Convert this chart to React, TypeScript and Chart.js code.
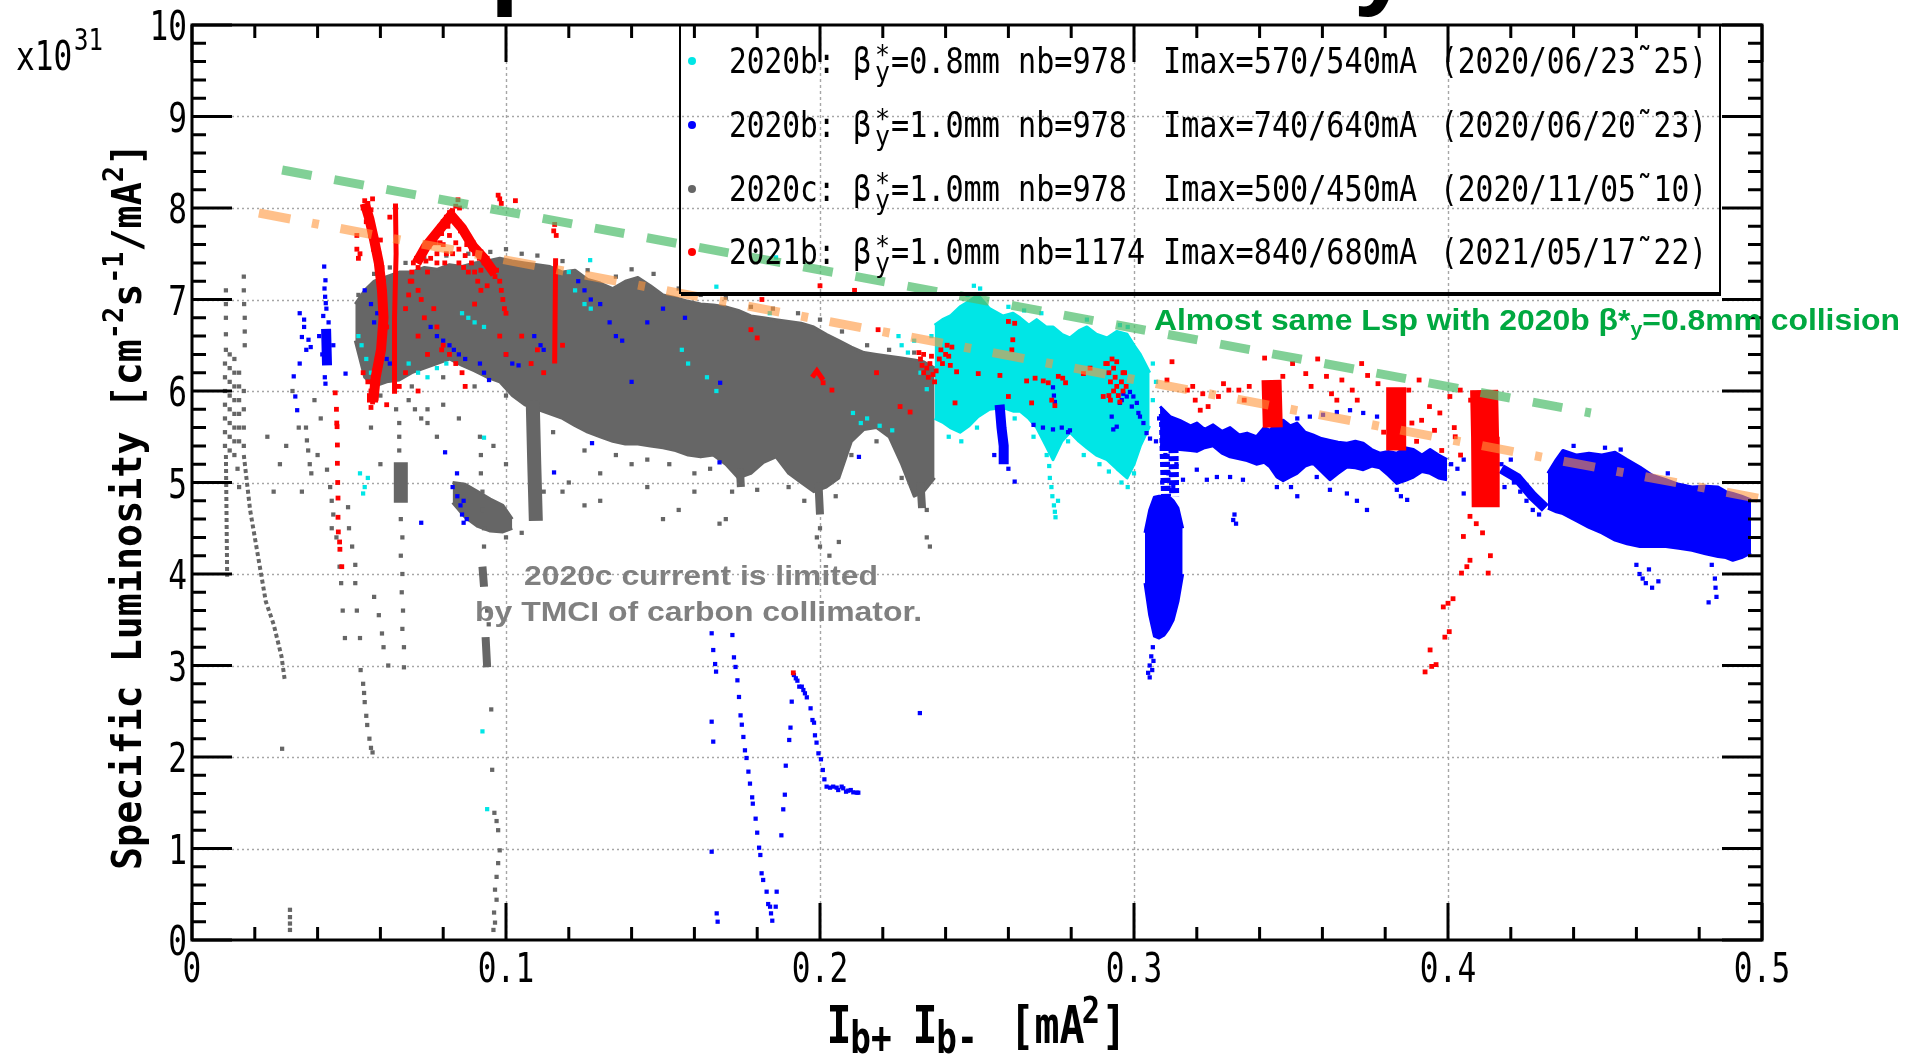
import React, { useEffect, useRef } from 'react';
import { Chart, registerables } from 'chart.js';

Chart.register(...registerables);

type P = [number, number];

const W = 1907;
const H = 1057;

// ---------------- axes ----------------
const xMajorTicks = [0, 0.1, 0.2, 0.3, 0.4, 0.5];
const xTickLabels = ['0', '0.1', '0.2', '0.3', '0.4', '0.5'];
const yMajorTicks = [0, 1, 2, 3, 4, 5, 6, 7, 8, 9, 10];
const yTickLabels = ['0', '1', '2', '3', '4', '5', '6', '7', '8', '9', '10'];
const xMinorCount = 25; // 0.02 steps
const yMinorCount = 50; // 0.2 steps

// ---------------- legend ----------------
const legendRuns = ['2020b', '2020b', '2020c', '2021b'];
const legendBeta = ['0.8', '1.0', '1.0', '1.0'];
const legendNb = ['978', '978', '978', '1174'];
const legendImax = ['570/540', '740/640', '500/450', '840/680'];
const legendDates = ['2020/06/23˜25', '2020/06/20˜23', '2020/11/05˜10', '2021/05/17˜22'];
const COLORS = { cyan: '#00e6e6', blue: '#0000ff', gray: '#666666', red: '#ff0000' };
const legendColors = [COLORS.cyan, COLORS.blue, COLORS.gray, COLORS.red];

// ---------------- guide lines ----------------
const greenLine: P[] = [[0.0287, 8.415], [0.4455, 5.76]];
const orangeLine: P[] = [[0.0213, 7.945], [0.5, 4.82]];

// ---------------- 2020c (gray) ----------------
const grayCloudX = [0.052,0.055,0.058,0.062,0.066,0.070,0.074,0.078,0.082,0.086,0.090,0.094,0.098,0.102,0.106,0.110,0.114,0.118,0.122,0.126,0.130,0.134,0.138,0.142,0.146,0.150,0.154,0.158,0.162,0.166,0.170,0.174,0.178,0.182,0.186,0.190,0.194,0.198,0.202,0.206,0.210,0.214,0.218,0.222,0.226,0.230,0.233,0.2365];
const grayCloudTop = [6.95,7.10,7.20,7.25,7.30,7.30,7.35,7.33,7.38,7.36,7.40,7.42,7.45,7.42,7.40,7.38,7.36,7.30,7.32,7.22,7.18,7.12,7.20,7.24,7.15,7.05,7.02,6.98,6.95,6.94,6.92,6.88,6.82,6.80,6.78,6.76,6.74,6.70,6.62,6.55,6.48,6.42,6.40,6.38,6.36,6.34,6.32,6.25];
const grayCloudBottom = [6.55,6.15,6.05,6.10,6.12,6.20,6.25,6.30,6.35,6.28,6.22,6.15,6.10,5.95,5.85,5.80,5.75,5.70,5.62,5.55,5.50,5.45,5.42,5.42,5.40,5.38,5.35,5.30,5.28,5.30,5.20,5.05,5.10,5.22,5.28,5.10,5.00,4.90,4.95,5.05,5.45,5.58,5.60,5.50,5.20,4.85,4.90,5.05];
const grayClumpX = [0.083, 0.087, 0.091, 0.095, 0.099, 0.102];
const grayClumpTop = [5.0, 4.98, 4.9, 4.82, 4.75, 4.6];
const grayClumpBottom = [4.78, 4.62, 4.52, 4.47, 4.46, 4.5];
const grayStrokesWide: P[][] = [
  [[0.0665, 5.22], [0.0665, 4.78]],
  [[0.1085, 5.9], [0.109, 5.2], [0.1095, 4.58]],
];
const grayStrokesMid: P[][] = [
  [[0.1745, 5.15], [0.1748, 4.95]],
  [[0.1995, 5.0], [0.2, 4.65]],
  [[0.232, 5.0], [0.2325, 4.72]],
  [[0.0925, 4.08], [0.093, 3.86]],
  [[0.0935, 3.31], [0.094, 2.98]],
];
const grayStrokesDotted: P[][] = [
  [[0.0165, 5.3], [0.0185, 4.7], [0.021, 4.2], [0.0235, 3.7], [0.026, 3.45], [0.0285, 3.1], [0.0295, 2.85]],
  [[0.0108, 5.3], [0.0112, 3.97]],
];
const grayPoints: P[] = [
  [0.0105,6.3],[0.0105,6.15],[0.0105,6.0],[0.0105,5.85],[0.0105,5.7],[0.0105,5.55],[0.0105,5.4],
  [0.012,6.4],[0.012,6.25],[0.012,6.1],[0.012,5.95],[0.012,5.8],[0.012,5.65],[0.012,5.5],[0.012,5.35],
  [0.0135,6.35],[0.0135,6.2],[0.0135,6.05],[0.0135,5.9],[0.0135,5.75],[0.0135,5.6],[0.0135,5.45],[0.0135,5.3],
  [0.015,6.2],[0.015,6.05],[0.015,5.9],[0.015,5.75],[0.015,5.6],[0.015,5.45],[0.0165,6.0],[0.0165,5.8],[0.0165,5.6],[0.0165,5.4],
  [0.0108,7.1],[0.0108,6.95],[0.0108,6.8],[0.0108,6.62],[0.0108,6.45],
  [0.0165,7.25],[0.0165,7.1],[0.0166,6.95],[0.0168,6.8],[0.0168,6.65],[0.0168,6.5],
  [0.0145,5.15],[0.015,4.95],[0.0312,0.33],[0.0312,0.25],[0.0312,0.18],[0.0312,0.11],[0.0287,2.09],
  [0.0366,5.46],[0.037,5.35],[0.0375,5.2],[0.038,5.1],[0.0363,5.6],
  [0.043,5.14],[0.044,4.95],[0.0445,4.8],[0.045,4.65],[0.0445,4.5],[0.046,4.4],[0.047,4.08],[0.0475,3.9],[0.048,3.6],[0.0487,3.3],
  [0.0497,4.73],[0.05,4.5],[0.051,4.3],[0.052,4.1],[0.052,3.9],[0.0525,3.6],[0.0535,3.3],
  [0.0537,2.95],[0.0545,2.8],[0.0548,2.7],[0.055,2.6],[0.0555,2.45],[0.0558,2.35],[0.0565,2.2],[0.057,2.1],[0.0575,2.05],
  [0.058,3.75],[0.0595,3.55],[0.0605,3.35],[0.061,3.2],[0.0625,3.0],
  [0.065,5.8],[0.066,5.65],[0.066,5.5],[0.066,5.35],[0.0665,4.6],[0.067,4.4],[0.0665,4.2],[0.067,4.0],[0.0668,3.8],[0.0672,3.6],[0.067,3.4],[0.0675,3.2],[0.0675,2.98],
  [0.069,5.9],[0.071,5.8],[0.073,5.7],[0.075,5.65],
  [0.0917,5.5],[0.092,5.3],[0.092,5.1],[0.0925,4.9],[0.0925,4.7],[0.093,4.5],[0.093,4.3],[0.094,3.6],[0.0945,3.45],
  [0.0953,2.52],[0.0956,1.86],[0.0963,1.39],[0.097,1.3],[0.0975,1.2],[0.098,0.98],[0.0975,0.84],[0.097,0.69],[0.0965,0.55],[0.097,0.44],[0.0962,0.3],[0.0965,0.19],[0.096,0.11],
  [0.053,7.05],[0.058,7.28],[0.063,7.35],[0.068,7.4],[0.074,7.45],[0.081,7.48],[0.088,7.5],[0.095,7.52],[0.1,7.55],[0.105,7.5],[0.11,7.48],[0.118,7.42],[0.126,7.32],[0.135,7.25],[0.14,7.33],[0.147,7.28],[0.155,7.12],[0.162,7.05],[0.17,7.02],[0.178,6.92],[0.185,6.9],[0.193,6.85],[0.2,6.78],[0.207,6.65],[0.215,6.5],[0.222,6.45],[0.23,6.42],
  [0.06,5.95],[0.07,6.05],[0.08,6.15],[0.09,6.05],[0.1,5.95],[0.115,5.55],[0.125,5.35],[0.135,5.3],[0.145,5.25],[0.152,5.2],[0.16,5.1],[0.165,5.15],[0.172,4.9],[0.18,4.92],[0.19,4.95],[0.195,4.8],[0.205,4.85],[0.21,5.3],[0.218,5.45],[0.226,5.05],[0.234,4.7],[0.2,4.5],[0.199,4.4],
  [0.024,5.5],[0.028,5.2],[0.035,4.9],[0.04,5.3],[0.057,5.6],[0.06,5.2],[0.075,5.8],[0.078,5.5],[0.12,5.0],[0.13,5.1],[0.14,5.2],[0.15,4.6],[0.16,4.9],[0.17,4.6],[0.2,4.3],[0.203,4.2],[0.206,4.35],[0.234,4.4],[0.235,4.3],[0.1,4.4],[0.105,4.45],[0.112,4.9],[0.125,4.75],[0.168,4.55],
  [0.032,6.0],[0.034,5.6],[0.039,5.9],[0.041,5.7],[0.03,5.4],[0.026,4.9],[0.08,5.85],[0.085,5.7],[0.096,5.4],[0.1,5.2],[0.118,4.9],[0.13,4.8],[0.145,4.95],[0.155,4.7],
];

// ---------------- 2020b beta*=0.8mm (cyan) ----------------
const cyanCloudX = [0.2365,0.239,0.2415,0.2446,0.2475,0.2503,0.254,0.2583,0.2615,0.2637,0.2665,0.269,0.272,0.2742,0.277,0.2796,0.2825,0.285,0.288,0.2914,0.2945,0.2978,0.300,0.302,0.305];
const cyanCloudTop = [6.72,6.78,6.82,6.92,6.98,7.05,6.90,6.82,6.85,6.80,6.72,6.78,6.70,6.70,6.62,6.58,6.66,6.70,6.62,6.58,6.65,6.62,6.50,6.40,6.20];
const cyanCloudBottom = [5.70,5.66,5.60,5.55,5.62,5.72,5.80,5.82,5.78,5.78,5.70,5.60,5.40,5.25,5.45,5.55,5.45,5.38,5.30,5.25,5.15,5.05,5.20,5.40,5.62];
const cyanPoints: P[] = [
  [0.053,6.6],[0.054,6.5],[0.0555,6.35],[0.057,6.2],[0.069,6.3],[0.072,6.2],[0.075,6.15],[0.078,6.25],[0.081,6.3],[0.086,6.85],[0.088,6.8],[0.09,6.75],[0.093,6.7],
  [0.12,7.3],[0.122,7.1],[0.125,6.95],[0.127,6.9],[0.1268,7.43],[0.156,6.45],[0.158,6.3],[0.164,6.15],[0.167,6.0],[0.167,7.14],[0.184,6.85],[0.186,7.46],
  [0.0535,5.1],[0.055,4.95],[0.056,5.05],[0.0545,4.88],[0.0925,2.28],[0.094,1.43],[0.093,5.49],
  [0.2105,5.76],[0.213,5.65],[0.215,5.7],[0.219,5.62],[0.223,5.57],[0.226,6.5],[0.228,6.42],[0.23,6.55],[0.232,6.2],[0.234,6.02],[0.225,6.6],[0.2355,6.6],
  [0.2722,5.3],[0.273,5.18],[0.2732,5.05],[0.2737,4.95],[0.274,4.85],[0.2745,4.75],[0.2748,4.68],[0.275,4.62],[0.2758,4.8],
  [0.249,7.15],[0.251,7.12],[0.247,7.05],[0.26,6.92],[0.265,6.88],[0.2705,6.85],[0.285,6.78],[0.2955,6.72],[0.298,6.7],
  [0.241,5.5],[0.245,5.45],[0.25,5.6],[0.262,5.7],[0.268,5.5],[0.279,5.45],[0.284,5.3],[0.289,5.2],[0.292,5.12],[0.296,5.0],[0.298,4.95],[0.3,5.1],
  [0.306,5.9],[0.307,6.1],[0.306,6.3],
];

// ---------------- 2020b beta*=1.0mm (blue) ----------------
const blueBandX = [0.3083,0.3115,0.3146,0.318,0.32,0.3225,0.3252,0.328,0.3306,0.3335,0.336,0.339,0.3415,0.3433,0.3455,0.3475,0.3497,0.3519,0.3545,0.357,0.3597,0.3624,0.365,0.3678,0.3705,0.373,0.3757,0.3783,0.381,0.3837,0.3863,0.389,0.3917,0.3943,0.397,0.3997];
const blueBandTop = [5.83,5.72,5.68,5.62,5.65,5.58,5.63,5.56,5.60,5.52,5.54,5.50,5.60,5.57,5.66,5.68,5.62,5.65,5.55,5.52,5.48,5.46,5.44,5.43,5.45,5.43,5.36,5.32,5.34,5.32,5.38,5.36,5.30,5.36,5.30,5.25];
const blueBandBottom = [5.40,5.38,5.36,5.35,5.34,5.38,5.40,5.32,5.28,5.26,5.24,5.20,5.22,5.17,5.06,5.02,5.06,5.10,5.18,5.21,5.12,5.03,5.10,5.17,5.16,5.14,5.18,5.16,5.08,4.99,5.02,5.06,5.12,5.10,5.05,5.03];
const blueCloudX = [0.4318,0.4345,0.4366,0.441,0.4449,0.449,0.4532,0.457,0.4611,0.465,0.4694,0.4735,0.4777,0.482,0.486,0.4885,0.4907,0.4935,0.4965];
const blueCloudTop = [5.10,5.25,5.35,5.30,5.32,5.30,5.33,5.25,5.17,5.08,5.03,4.98,4.95,4.96,4.95,4.90,4.88,4.85,4.81];
const blueCloudBottom = [4.72,4.68,4.66,4.58,4.51,4.45,4.37,4.33,4.30,4.30,4.30,4.28,4.26,4.22,4.19,4.18,4.15,4.18,4.23];
const blueBlobX = [0.3035,0.305,0.3065,0.308,0.3095,0.311,0.3125,0.314,0.3155];
const blueBlobTop = [4.45,4.7,4.84,4.85,4.85,4.85,4.8,4.72,4.5];
const blueBlobBottom = [3.9,3.55,3.32,3.3,3.33,3.4,3.5,3.7,4.0];
const blueStrokes: P[][] = [
  [[0.2572, 5.85], [0.2578, 5.6], [0.2585, 5.4], [0.2585, 5.2]],
  [[0.0427, 6.68], [0.043, 6.28]],
  [[0.417, 5.15], [0.422, 5.05], [0.427, 4.85], [0.431, 4.72]],
];
const blueStrokesDashed: P[][] = [
  [[0.3095, 5.75], [0.3098, 5.3], [0.3102, 4.85]],
  [[0.3125, 5.55], [0.3128, 4.85]],
];
const bluePoints: P[] = [
  [0.0324,6.16],[0.0329,5.94],[0.0335,5.79],[0.0343,6.3],[0.035,6.59],[0.0357,6.7],[0.0364,6.45],[0.0371,6.56],[0.0378,6.48],[0.0343,6.85],[0.0357,6.78],
  [0.0421,7.36],[0.0425,7.21],[0.0424,7.03],[0.0428,6.9],[0.0435,6.75],[0.0423,6.15],[0.0425,6.08],[0.0489,6.19],[0.0405,6.6],[0.045,6.5],[0.0415,6.4],[0.0422,7.12],[0.0426,6.96],[0.0418,6.82],
  [0.055,7.1],[0.057,6.95],[0.059,6.85],[0.058,6.75],[0.06,6.5],[0.062,6.35],[0.063,6.3],[0.076,6.7],[0.078,6.6],[0.08,6.55],[0.082,6.5],[0.0834,6.45],[0.085,6.4],[0.087,6.35],[0.0917,6.3],[0.093,6.2],[0.0946,6.12],[0.1,6.4],[0.102,6.3],[0.104,6.28],[0.109,6.6],[0.111,6.5],[0.112,6.45],[0.123,7.2],[0.125,7.1],[0.127,7.0],[0.13,6.95],[0.133,6.75],[0.135,6.6],[0.137,6.55],[0.14,6.1],[0.145,6.75],[0.15,6.9],[0.157,6.8],[0.1682,6.09],
  [0.168,5.22],[0.2124,5.28],[0.1153,5.11],[0.1274,5.43],[0.0806,5.33],[0.073,4.56],[0.0844,5.1],[0.083,4.95],[0.0845,4.85],[0.0855,4.75],[0.086,4.65],[0.0865,4.56],[0.0875,4.6],[0.0865,4.8],
  [0.1655,3.352],[0.166,3.169],[0.1666,3.016],[0.1669,2.933],[0.1655,2.386],[0.166,2.168],[0.1655,0.965],[0.1671,0.291],[0.1674,0.2],
  [0.1721,3.333],[0.1726,3.089],[0.1731,2.984],[0.1737,2.838],[0.1742,2.656],[0.1747,2.455],[0.1751,2.353],[0.1756,2.219],[0.1761,2.073],[0.1766,1.989],[0.1772,1.84],[0.1777,1.709],[0.1784,1.559],[0.1786,1.49],[0.1795,1.326],[0.18,1.173],[0.1806,1.009],[0.181,0.929],[0.1814,0.729],[0.1819,0.656],[0.183,0.528],[0.1835,0.393],[0.1841,0.364],[0.1844,0.291],[0.1848,0.211],[0.1862,0.528],[0.1859,0.364],
  [0.1917,2.896],[0.1923,2.86],[0.1928,2.834],[0.1934,2.769],[0.1942,2.769],[0.1947,2.732],[0.1952,2.696],[0.1958,2.652],[0.197,2.532],[0.1976,2.404],[0.1981,2.375],[0.1984,2.237],[0.1989,2.157],[0.1995,2.04],[0.2003,1.975],[0.2009,1.858],[0.2014,1.756],[0.2021,1.676],[0.2032,1.665],[0.2042,1.676],[0.2053,1.665],[0.2058,1.639],[0.2069,1.676],[0.2074,1.658],[0.2083,1.621],[0.209,1.632],[0.2098,1.639],[0.2106,1.614],[0.2117,1.61],[0.2122,1.61],
  [0.191,2.605],[0.1906,2.321],[0.1902,2.186],[0.1891,1.905],[0.1888,1.588],[0.1883,1.428],[0.1877,1.144],
  [0.2318,2.48],
  [0.268,5.63],[0.271,5.6],[0.2742,5.58],[0.277,5.6],[0.279,5.55],[0.2796,5.57],[0.2742,6.04],[0.2745,5.95],[0.2748,5.88],[0.262,5.01],[0.2555,5.3],[0.26,5.15],
  [0.2929,5.72],[0.2945,5.61],[0.2955,5.87],[0.2966,5.97],[0.2977,5.94],[0.2987,5.99],[0.2998,5.94],[0.3009,5.87],[0.3014,5.76],[0.3019,5.72],[0.303,5.65],[0.304,5.54],[0.3051,5.48],[0.2993,5.83],[0.2961,5.9],[0.2934,5.58],
  [0.308,5.7],[0.3095,5.5],[0.31,5.3],[0.311,5.1],[0.3125,4.95],[0.309,5.0],[0.3135,5.2],[0.307,5.45],
  [0.306,3.2],[0.3055,3.1],[0.305,3.0],[0.3045,2.92],[0.305,2.87],[0.3058,2.95],[0.3062,3.05],
  [0.3602,5.74],[0.3646,5.77],[0.3688,5.79],[0.373,5.76],[0.3774,5.72],[0.3815,5.66],[0.352,5.7],[0.356,5.72],
  [0.3156,5.03],[0.32,5.14],[0.3232,5.03],[0.3264,5.06],[0.3306,5.06],[0.3347,5.03],[0.3316,4.59],[0.332,4.65],[0.3325,4.55],
  [0.3582,5.06],[0.3624,4.92],[0.3678,4.88],[0.371,4.8],[0.3742,4.7],[0.3837,4.92],[0.385,4.85],[0.387,4.81],[0.405,4.88],[0.409,4.77],[0.35,4.95],[0.352,4.85],[0.3455,4.95],
  [0.401,5.2],[0.403,5.15],[0.405,5.25],[0.417,5.2],[0.419,5.1],[0.421,5.0],[0.423,4.9],[0.425,4.8],[0.427,4.7],[0.429,4.65],[0.42,5.25],[0.418,4.95],
  [0.46,4.1],[0.461,4.0],[0.462,3.95],[0.463,3.9],[0.465,3.85],[0.464,4.05],[0.467,3.92],[0.484,4.1],[0.485,3.95],[0.4852,3.85],[0.4855,3.75],[0.483,3.69],
  [0.44,5.4],[0.45,5.38],[0.455,5.36],[0.47,5.1],
];

// ---------------- 2021b (red) ----------------
const redStrokesXL: P[][] = [
  [[0.4115, 6.01], [0.4118, 5.5], [0.412, 4.73]],
];
const redStrokesThick: P[][] = [
  [[0.3438, 6.12], [0.3442, 5.6]],
  [[0.3835, 6.04], [0.3835, 5.35]],
];
const redStrokesMid: P[][] = [
  [[0.055, 8.05], [0.0565, 7.88], [0.058, 7.65], [0.0595, 7.4], [0.0605, 7.1], [0.061, 6.8], [0.0602, 6.45], [0.0585, 6.15], [0.0578, 5.9]],
  [[0.0715, 7.4], [0.0745, 7.58], [0.0785, 7.75], [0.0825, 7.92], [0.086, 7.78], [0.0895, 7.58], [0.093, 7.45], [0.0965, 7.28]],
];
const redStrokesThin: P[][] = [
  [[0.0645, 5.97], [0.0645, 6.8], [0.065, 7.5], [0.0648, 8.05]],
  [[0.1155, 6.3], [0.1158, 7.45]],
  [[0.1975, 6.15], [0.199, 6.22], [0.201, 6.12]],
];
const redPoints: P[] = [
  [0.0545,8.0],[0.055,8.08],[0.0555,7.95],[0.056,8.05],[0.0565,7.9],[0.057,7.98],[0.0555,7.85],[0.0575,7.8],[0.058,7.72],[0.0568,7.7],[0.0585,7.65],[0.059,7.58],[0.0578,7.55],[0.0595,7.5],[0.06,7.42],[0.0588,7.4],[0.0605,7.35],[0.0598,7.28],[0.061,7.2],[0.0602,7.1],[0.0612,7.05],[0.0605,6.95],[0.0615,6.85],[0.0608,6.75],[0.062,6.7],[0.061,6.6],[0.0598,6.5],[0.0605,6.42],[0.059,6.35],[0.0598,6.28],[0.0582,6.22],[0.059,6.15],[0.0575,6.1],[0.0585,6.05],[0.057,6.0],[0.058,5.95],[0.0575,5.88],[0.0565,5.95],[0.0585,5.9],[0.0595,6.4],[0.056,6.1],[0.0525,7.55],[0.053,7.45],[0.0535,7.5],
  [0.069,7.05],[0.0695,7.2],[0.07,7.3],[0.0705,7.4],[0.0715,7.45],[0.072,7.35],[0.073,7.5],[0.074,7.55],[0.0745,7.62],[0.0755,7.58],[0.076,7.65],[0.077,7.7],[0.0775,7.62],[0.078,7.75],[0.079,7.8],[0.0795,7.72],[0.08,7.85],[0.081,7.9],[0.0815,7.8],[0.082,7.95],[0.083,7.97],[0.0835,7.88],[0.084,8.02],[0.085,7.85],[0.0855,7.75],[0.086,7.8],[0.087,7.7],[0.0875,7.6],[0.088,7.65],[0.089,7.55],[0.0895,7.62],[0.09,7.5],[0.091,7.55],[0.0915,7.45],[0.092,7.52],[0.093,7.4],[0.094,7.45],[0.0945,7.35],[0.095,7.38],[0.096,7.3],[0.0965,7.25],[0.097,7.32],[0.098,7.2],[0.0985,7.1],[0.099,7.0],[0.0995,6.9],[0.1,6.85],[0.075,7.3],[0.08,7.6],[0.085,7.4],[0.09,7.3],[0.072,7.1],[0.078,7.5],
  [0.076,7.45],[0.079,7.62],[0.082,7.7],[0.084,7.62],[0.087,7.48],[0.083,7.5],[0.0805,7.4],[0.0865,7.35],[0.0745,7.42],[0.089,7.4],[0.092,7.32],
  [0.0456,5.98],[0.046,5.8],[0.0461,5.65],[0.0462,5.61],[0.0463,5.41],[0.0463,5.21],[0.0464,5.0],[0.0465,4.83],[0.0465,4.62],[0.0466,4.46],[0.047,4.35],[0.0471,4.27],[0.0477,4.08],
  [0.0975,8.14],[0.098,8.1],[0.0985,8.05],[0.103,8.08],[0.0847,8.09],[0.0852,8.0],[0.1155,7.82],[0.1152,7.75],[0.116,7.7],
  [0.066,6.05],[0.068,6.2],[0.072,6.6],[0.074,6.8],[0.078,6.7],[0.08,6.5],[0.082,6.4],[0.084,6.3],[0.086,6.2],[0.087,6.05],[0.062,5.85],[0.0565,5.9],[0.057,5.82],[0.0545,6.2],[0.075,6.4],[0.077,6.9],[0.0795,6.45],[0.09,6.95],[0.092,7.1],[0.1,6.4],[0.098,6.6],[0.105,6.6],[0.108,6.3],[0.11,6.45],[0.118,6.5],[0.112,6.2],[0.072,6.0],[0.07,7.2],[0.068,6.9],[0.073,7.0],[0.081,7.5],[0.085,7.55],[0.088,7.3],[0.091,7.2],[0.094,7.15],[0.078,7.4],[0.063,7.9],[0.0525,7.7],[0.06,7.65],[0.0575,8.1],
  [0.1815,7.0],[0.211,7.1],[0.178,6.67],[0.18,6.58],[0.2185,6.67],[0.218,6.2],[0.2255,5.83],[0.2287,5.77],[0.2038,6.01],[0.201,6.09],[0.2,7.15],
  [0.2315,6.42],[0.232,6.35],[0.2325,6.28],[0.233,6.2],[0.234,6.25],[0.2345,6.15],[0.235,6.3],[0.236,6.18],[0.2365,6.1],[0.237,6.22],[0.238,6.35],[0.2385,6.45],[0.239,6.3],[0.24,6.4],[0.2405,6.5],[0.241,6.38],[0.242,6.48],[0.2415,6.28],[0.233,6.4],[0.2355,6.38],
  [0.2915,6.3],[0.292,6.2],[0.2925,6.1],[0.293,6.35],[0.2935,6.25],[0.294,6.15],[0.2945,6.05],[0.295,5.95],[0.2955,5.88],[0.296,6.1],[0.2965,6.2],[0.2935,6.0],[0.2925,5.9],[0.2975,6.05],[0.2945,6.32],
  [0.2435,6.21],[0.2504,6.19],[0.2573,6.17],[0.2658,6.11],[0.2685,6.14],[0.2711,6.11],[0.2727,6.09],[0.2759,6.16],[0.2773,6.14],[0.2782,6.09],[0.2839,6.19],[0.286,6.25],[0.2902,5.94],[0.26,5.94],[0.2674,5.87],[0.2738,5.9],[0.2748,5.84],[0.243,5.87],[0.26,6.76],[0.262,6.74],[0.2614,6.56],[0.2611,6.45],[0.291,6.3],[0.297,6.2],[0.2965,6.0],[0.292,5.95],
  [0.3121,6.32],[0.3187,6.05],[0.3219,5.97],[0.3269,5.94],[0.3236,5.83],[0.3302,6.01],[0.3367,6.05],[0.3416,6.36],[0.3474,6.16],[0.3547,6.19],[0.3564,6.05],[0.3613,6.16],[0.3662,6.12],[0.3711,5.9],[0.3744,6.17],[0.3777,6.08],[0.3875,6.01],[0.3908,6.12],[0.3941,5.83],[0.3974,5.76],[0.4006,5.94],[0.4039,6.01],[0.4072,5.9],[0.3105,6.12],[0.317,6.01],[0.3195,5.9],[0.3211,5.79],[0.3334,6.01],[0.3351,5.9],[0.3285,6.08],[0.3629,5.97],[0.3646,5.9],[0.3695,6.01],[0.3916,5.68],[0.3957,5.57],[0.4023,5.5],[0.39,5.45],[0.398,5.35],[0.402,5.6],[0.404,5.3],[0.3505,6.3],[0.3585,6.35],[0.3725,6.3],[0.3795,5.55],[0.3885,5.65],
  [0.4049,4.41],[0.407,4.63],[0.409,4.55],[0.411,4.45],[0.4043,4.01],[0.406,4.08],[0.407,4.15],[0.4128,4.01],[0.4135,4.2],[0.3985,3.64],[0.4,3.68],[0.4016,3.73],[0.399,3.31],[0.4004,3.37],[0.3943,3.17],[0.3927,2.93],[0.3948,2.99],[0.3962,3.01],
  [0.1915,2.92],
];

// ---------------- helpers ----------------
const toPts = (a: P[]) => a.map(([x, y]) => ({ x, y }));
const toPoly = (lines: P[][]) => {
  const out: { x: number; y: number | null }[] = [];
  lines.forEach((l, i) => {
    if (i > 0) out.push({ x: l[0][0], y: null });
    l.forEach(([x, y]) => out.push({ x, y }));
  });
  return out;
};
const zipXY = (xs: number[], ys: number[]) => xs.map((x, i) => ({ x, y: ys[i] }));

const pointsDs = (data: P[], color: string, r = 3) => ({
  type: 'line', data: toPts(data), showLine: false, pointStyle: 'rect', pointRadius: r,
  pointBackgroundColor: color, pointBorderWidth: 0, pointHoverRadius: 0, borderWidth: 0, fill: false,
});
const strokeDs = (lines: P[][], color: string, w: number, dash: number[] = []) => ({
  type: 'line', data: toPoly(lines), showLine: true, borderColor: color, borderWidth: w, borderDash: dash,
  pointRadius: 0, fill: false, spanGaps: false, borderCapStyle: 'butt', borderJoinStyle: 'miter',
});
const bandTopDs = (xs: number[], ys: number[], color: string) => ({
  type: 'line', data: zipXY(xs, ys), showLine: true, borderColor: color, borderWidth: 3,
  pointRadius: 0, fill: '+1', backgroundColor: color, borderJoinStyle: 'round',
});
const bandBottomDs = (xs: number[], ys: number[], color: string) => ({
  type: 'line', data: zipXY(xs, ys), showLine: true, borderColor: color, borderWidth: 3,
  pointRadius: 0, fill: false, borderJoinStyle: 'round',
});

const MONO = '"DejaVu Sans Mono", "Liberation Mono", monospace';
const SANS = '"Liberation Sans", Arial, sans-serif';

function drawText(
  ctx: CanvasRenderingContext2D, text: string, x: number, y: number, font: string,
  opts: { sx?: number; width?: number; align?: 'left' | 'center' | 'right'; color?: string } = {}
) {
  ctx.save();
  ctx.font = font;
  const nat = ctx.measureText(text).width;
  const sx = opts.width ? opts.width / nat : opts.sx ?? 1;
  const w = nat * sx;
  let left = x;
  if (opts.align === 'center') left = x - w / 2;
  else if (opts.align === 'right') left = x - w;
  ctx.translate(left, y);
  ctx.scale(sx, 1);
  ctx.fillStyle = opts.color ?? '#000';
  ctx.textAlign = 'left';
  ctx.textBaseline = 'alphabetic';
  ctx.fillText(text, 0, 0);
  ctx.restore();
  return w;
}

function drawMono(ctx: CanvasRenderingContext2D, text: string, x: number, y: number, size: number, pitch: number, color = '#000') {
  ctx.save();
  ctx.font = `${size}px ${MONO}`;
  const adv = ctx.measureText('0').width;
  ctx.restore();
  return drawText(ctx, text, x, y, `${size}px ${MONO}`, { sx: pitch / adv, color });
}

const decorPlugin = {
  id: 'decor',
  beforeDatasetsDraw(chart: any) {
    const { ctx, chartArea: a, scales } = chart;
    const xs = scales.x, ys = scales.y;
    ctx.save();
    ctx.strokeStyle = '#a6a6a6';
    ctx.lineWidth = 1.4;
    ctx.setLineDash([2, 3]);
    for (let v = 1; v <= 9; v++) {
      const py = Math.round(ys.getPixelForValue(v)) + 0.5;
      ctx.beginPath(); ctx.moveTo(a.left, py); ctx.lineTo(a.right, py); ctx.stroke();
    }
    ctx.setLineDash([3, 3]);
    for (let i = 1; i <= 4; i++) {
      const px = Math.round(xs.getPixelForValue(i * 0.1)) + 0.5;
      ctx.beginPath(); ctx.moveTo(px, a.top); ctx.lineTo(px, a.bottom); ctx.stroke();
    }
    ctx.restore();
  },
  afterDatasetsDraw(chart: any) {
    const { ctx, chartArea: a, scales } = chart;
    const xs = scales.x, ys = scales.y;
    ctx.save();
    ctx.strokeStyle = '#000';
    ctx.lineWidth = 3;
    ctx.setLineDash([]);
    ctx.strokeRect(a.left, a.top, a.right - a.left, a.bottom - a.top);
    for (let i = 0; i <= xMinorCount; i++) {
      const v = (i * 0.5) / xMinorCount;
      const px = xs.getPixelForValue(v);
      const major = i % 5 === 0;
      const len = major ? 37 : 13;
      ctx.beginPath();
      ctx.moveTo(px, a.bottom); ctx.lineTo(px, a.bottom - len);
      ctx.moveTo(px, a.top); ctx.lineTo(px, a.top + len);
      ctx.stroke();
    }
    for (let i = 0; i <= yMinorCount; i++) {
      const v = (i * 10) / yMinorCount;
      const py = ys.getPixelForValue(v);
      const major = i % 5 === 0;
      const len = major ? 40 : 14;
      ctx.beginPath();
      ctx.moveTo(a.left, py); ctx.lineTo(a.left + len, py);
      ctx.moveTo(a.right, py); ctx.lineTo(a.right - len, py);
      ctx.stroke();
    }
    ctx.restore();

    const tickFont = `41px ${MONO}`;
    xMajorTicks.forEach((v, i) => {
      drawText(ctx, xTickLabels[i], xs.getPixelForValue(v), 982, tickFont, { sx: 0.76, align: 'center' });
    });
    yMajorTicks.forEach((v, i) => {
      drawText(ctx, yTickLabels[i], a.left - 5, ys.getPixelForValue(v) + 15, tickFont, { sx: 0.76, align: 'right' });
    });
    drawText(ctx, 'x10', 16, 70, tickFont, { sx: 0.76 });
    drawText(ctx, '31', 74, 50, `30px ${MONO}`, { sx: 0.8 });

    const xf = (s: number) => `bold ${s}px ${MONO}`;
    drawText(ctx, 'I', 839, 1043, xf(52), { sx: 0.8, align: 'center' });
    drawText(ctx, 'b+', 871, 1053, xf(44), { sx: 0.78, align: 'center' });
    drawText(ctx, 'I', 925, 1043, xf(52), { sx: 0.8, align: 'center' });
    drawText(ctx, 'b-', 957, 1053, xf(44), { sx: 0.78, align: 'center' });
    drawText(ctx, '[mA', 1047, 1043, xf(52), { sx: 0.8, align: 'center' });
    drawText(ctx, '2', 1091, 1023, xf(38), { sx: 0.8, align: 'center' });
    drawText(ctx, ']', 1114, 1043, xf(52), { sx: 0.8, align: 'center' });

    const segs = [
      { t: 'Specific Luminosity [cm', s: 40, dy: 0 },
      { t: '-2', s: 28, dy: -18 },
      { t: 's', s: 40, dy: 0 },
      { t: '-1', s: 28, dy: -18 },
      { t: '/mA', s: 40, dy: 0 },
      { t: '2', s: 28, dy: -18 },
      { t: ']', s: 40, dy: 0 },
    ];
    ctx.save();
    let total = 0;
    segs.forEach((g) => { ctx.font = xf(g.s); total += ctx.measureText(g.t).width; });
    const ysx = 727 / total;
    ctx.translate(141, 870);
    ctx.rotate(-Math.PI / 2);
    let cx = 0;
    segs.forEach((g) => {
      const w = drawText(ctx, g.t, cx, g.dy, xf(g.s), { sx: ysx });
      cx += w;
    });
    ctx.restore();

    ctx.save();
    ctx.font = `bold 105px ${SANS}`;
    ctx.fillStyle = '#000';
    ctx.textBaseline = 'alphabetic';
    ctx.fillText('Specific Luminosity', 420, -5);
    ctx.restore();

    ctx.save();
    ctx.strokeStyle = '#000';
    ctx.lineWidth = 2;
    ctx.strokeRect(680, a.top, 1040, 293 - a.top);
    ctx.beginPath(); ctx.moveTo(681, 295); ctx.lineTo(1721, 295); ctx.stroke();
    ctx.restore();
    const centers = [61, 125, 189, 252];
    centers.forEach((c, i) => {
      ctx.save();
      ctx.fillStyle = legendColors[i];
      ctx.beginPath(); ctx.arc(692, c, 4, 0, Math.PI * 2); ctx.fill();
      ctx.restore();
      const base = c + 12;
      drawMono(ctx, `${legendRuns[i]}: β`, 729, base, 36, 17.75);
      drawMono(ctx, '*', 875, base - 9, 26, 15);
      drawMono(ctx, 'y', 875, base + 8, 26, 15);
      drawMono(ctx, `=${legendBeta[i]}mm nb=${legendNb[i]}`, 891, base, 36, 18.15);
      drawMono(ctx, `Imax=${legendImax[i]}mA`, 1163, base, 36, 18.15);
      drawMono(ctx, `(${legendDates[i]})`, 1440, base, 36, 17.8);
    });

    ctx.save();
    const gf = `bold 30px "Liberation Sans Narrow", ${SANS}`;
    const gs = `bold 20px "Liberation Sans Narrow", ${SANS}`;
    ctx.font = gf;
    const p1 = 'Almost same Lsp with 2020b β*';
    const p3 = '=0.8mm collision';
    const w1 = ctx.measureText(p1).width;
    const w3 = ctx.measureText(p3).width;
    ctx.font = gs;
    const w2 = ctx.measureText('y').width;
    const gsx = 746 / (w1 + w2 + w3);
    ctx.restore();
    const green = 'rgb(0,168,64)';
    let gx = 1154;
    gx += drawText(ctx, p1, gx, 330, gf, { sx: gsx, color: green });
    gx += drawText(ctx, 'y', gx, 336, gs, { sx: gsx, color: green });
    drawText(ctx, p3, gx, 330, gf, { sx: gsx, color: green });

    const af = `bold 28px ${SANS}`;
    drawText(ctx, '2020c current is limited', 524, 585, af, { width: 354, color: '#808080' });
    drawText(ctx, 'by TMCI of carbon collimator.', 475, 621, af, { width: 447, color: '#808080' });
  },
};

export default function App() {
  const ref = useRef<HTMLCanvasElement>(null);
  useEffect(() => {
    const canvas = ref.current;
    if (!canvas) return;
    const datasets: any[] = [
      { type: 'line', data: toPts(greenLine), showLine: true, borderColor: 'rgba(80,190,110,0.72)', borderWidth: 9, borderDash: [30, 23], borderCapStyle: 'butt', pointRadius: 0, fill: false },
      { type: 'line', data: toPts(orangeLine), showLine: true, borderColor: 'rgba(255,150,60,0.6)', borderWidth: 9, borderDash: [32, 22, 7, 22], borderCapStyle: 'butt', pointRadius: 0, fill: false },
      pointsDs(redPoints, COLORS.red, 3.4),
      strokeDs(redStrokesThin, COLORS.red, 5),
      strokeDs(redStrokesMid, COLORS.red, 10),
      strokeDs(redStrokesThick, COLORS.red, 20),
      strokeDs(redStrokesXL, COLORS.red, 28),
      pointsDs(bluePoints, COLORS.blue),
      strokeDs(blueStrokes, COLORS.blue, 10),
      strokeDs(blueStrokesDashed, COLORS.blue, 10, [5, 3]),
      bandTopDs(blueBandX, blueBandTop, COLORS.blue),
      bandBottomDs(blueBandX, blueBandBottom, COLORS.blue),
      bandTopDs(blueCloudX, blueCloudTop, COLORS.blue),
      bandBottomDs(blueCloudX, blueCloudBottom, COLORS.blue),
      bandTopDs(blueBlobX, blueBlobTop, COLORS.blue),
      bandBottomDs(blueBlobX, blueBlobBottom, COLORS.blue),
      pointsDs(cyanPoints, COLORS.cyan),
      bandTopDs(cyanCloudX, cyanCloudTop, COLORS.cyan),
      bandBottomDs(cyanCloudX, cyanCloudBottom, COLORS.cyan),
      pointsDs(grayPoints, COLORS.gray),
      strokeDs(grayStrokesDotted, COLORS.gray, 4, [4, 3]),
      strokeDs(grayStrokesMid, COLORS.gray, 8),
      strokeDs(grayStrokesWide, COLORS.gray, 14),
      bandTopDs(grayClumpX, grayClumpTop, COLORS.gray),
      bandBottomDs(grayClumpX, grayClumpBottom, COLORS.gray),
      bandTopDs(grayCloudX, grayCloudTop, COLORS.gray),
      bandBottomDs(grayCloudX, grayCloudBottom, COLORS.gray),
    ];
    const chart = new Chart(canvas, {
      type: 'line',
      data: { datasets },
      options: {
        responsive: false,
        animation: false,
        devicePixelRatio: 1,
        events: [],
        layout: { padding: { left: 192, right: W - 1762, top: 25, bottom: H - 940 } },
        plugins: { legend: { display: false }, tooltip: { enabled: false }, filler: { propagate: false } },
        scales: {
          x: { type: 'linear', min: 0, max: 0.5, display: false },
          y: { type: 'linear', min: 0, max: 10, display: false },
        },
      } as any,
      plugins: [decorPlugin as any],
    });
    return () => chart.destroy();
  }, []);
  return (
    <div style={{ position: 'fixed', left: 0, top: 0, width: W, height: H, background: '#fff' }}>
      <canvas ref={ref} width={W} height={H} style={{ display: 'block', width: W, height: H }} />
    </div>
  );
}
